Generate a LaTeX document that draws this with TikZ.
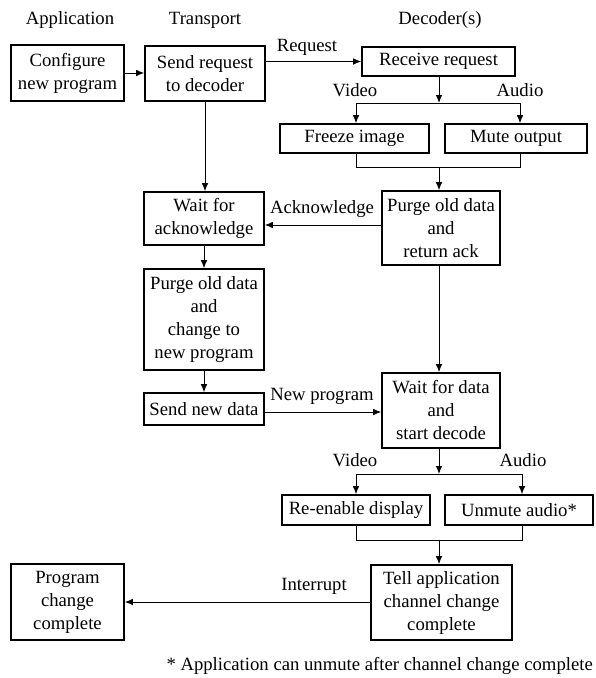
\documentclass[tikz,border=0pt]{standalone}
\usepackage{fontspec}
\setmainfont{Liberation Serif}
\usetikzlibrary{arrows.meta}
\begin{document}
\begin{tikzpicture}[x=1pt,y=-1pt,
 box/.style={draw,line width=1.6pt,rectangle,inner sep=0pt,align=center,font=\fontsize{18.7}{23}\selectfont},
 lbl/.style={inner sep=0pt,font=\fontsize{18.7}{23}\selectfont},
 conn/.style={line width=0.9pt},
 arr/.style={conn,-{Latex[length=8pt,width=6.5pt]}}]
\useasboundingbox (0,0) rectangle (595,678);
% headers
\node[lbl] (happ) at (70,20) {Application};
\node[lbl] (htr) at (205,20) {Transport};
\node[lbl] (hdec) at (440,20) {Decoder(s)};
% boxes
\node[box,minimum width=113pt,minimum height=56pt] (conf) at (67.5,73) {Configure\\new program};
\node[box,minimum width=120pt,minimum height=55pt] (sendreq) at (205,73.5) {Send request\\to decoder};
\node[box,minimum width=153pt,minimum height=29pt] (recv) at (438.5,61.5) {Receive request};
\node[box,minimum width=149pt,minimum height=29pt] (freeze) at (354.5,138.5) {Freeze image};
\node[box,minimum width=142pt,minimum height=29pt] (mute) at (516,138.5) {Mute output};
\node[box,minimum width=118pt,minimum height=74pt] (purge1) at (441,228) {Purge old data\\and\\return ack};
\node[box,minimum width=120pt,minimum height=53pt] (waitack) at (204,218.5) {Wait for\\acknowledge};
\node[box,minimum width=120pt,minimum height=101pt] (purge2) at (204,319.5) {Purge old data\\and\\change to\\new program};
\node[box,minimum width=120pt,minimum height=32pt] (sendnew) at (204,409) {Send new data};
\node[box,minimum width=118pt,minimum height=75pt] (waitdata) at (441,410.5) {Wait for data\\and\\start decode};
\node[box,minimum width=148pt,minimum height=30pt] (reen) at (356,510) {Re-enable display};
\node[box,minimum width=148pt,minimum height=30pt] (unmute) at (519,510) {Unmute audio*};
\node[box,minimum width=141pt,minimum height=75pt] (tell) at (441.5,602.5) {Tell application\\channel change\\complete};
\node[box,minimum width=113pt,minimum height=76pt] (progc) at (67.5,602) {Program\\change\\complete};
% labels
\node[lbl] (lreq) at (307,47) {Request};
\node[lbl] (lv1) at (355,90) {Video};
\node[lbl] (la1) at (520,90) {Audio};
\node[lbl] (lack) at (322,209) {Acknowledge};
\node[lbl] (lnew) at (322,396) {New program};
\node[lbl] (lv2) at (355,460) {Video};
\node[lbl] (la2) at (523,460) {Audio};
\node[lbl] (lint) at (314,586) {Interrupt};
\node[lbl,anchor=east] (foot) at (593,666) {* Application can unmute after channel change complete};
% coordinates
\coordinate (s1) at (439,103);
\coordinate (s1l) at (356,103);
\coordinate (s1r) at (520,103);
\coordinate (m1) at (439,167);
\coordinate (m1l) at (356,167);
\coordinate (m1r) at (520,167);
\coordinate (s2) at (439,474);
\coordinate (s2l) at (356,474);
\coordinate (s2r) at (522,474);
\coordinate (m2) at (439,540);
\coordinate (m2l) at (356,540);
\coordinate (m2r) at (522,540);
% connectors
\draw[arr] (conf.east) -- (conf.east -| sendreq.west);
\draw[arr] (recv.west -| sendreq.east) -- (recv.west);
\draw[arr] (sendreq.south) -- (sendreq.south |- waitack.north);
\draw[arr] (s1 |- recv.south) -- (s1);
\draw[conn] (s1l) -- (s1r);
\draw[arr] (s1l) -- (s1l |- freeze.north);
\draw[arr] (s1r) -- (s1r |- mute.north);
\draw[conn] (m1l |- freeze.south) -- (m1l) -- (m1r) -- (m1r |- mute.south);
\draw[arr] (m1) -- (m1 |- purge1.north);
\draw[arr] ([yshift=3pt]purge1.west) -- ([yshift=3pt]purge1.west -| waitack.east);
\draw[arr] (waitack.south) -- (purge2.north);
\draw[arr] (purge2.south) -- (sendnew.north);
\draw[arr] (m1 |- purge1.south) -- (m1 |- waitdata.north);
\draw[arr] ([yshift=-3pt]sendnew.east) -- ([yshift=-3pt]sendnew.east -| waitdata.west);
\draw[arr] (s2 |- waitdata.south) -- (s2);
\draw[conn] (s2l) -- (s2r);
\draw[arr] (s2l) -- (s2l |- reen.north);
\draw[arr] (s2r) -- (s2r |- unmute.north);
\draw[conn] (m2l |- reen.south) -- (m2l) -- (m2r) -- (m2r |- unmute.south);
\draw[arr] (m2) -- (m2 |- tell.north);
\draw[arr] (tell.west |- progc.east) -- (progc.east);
\end{tikzpicture}
\end{document}
